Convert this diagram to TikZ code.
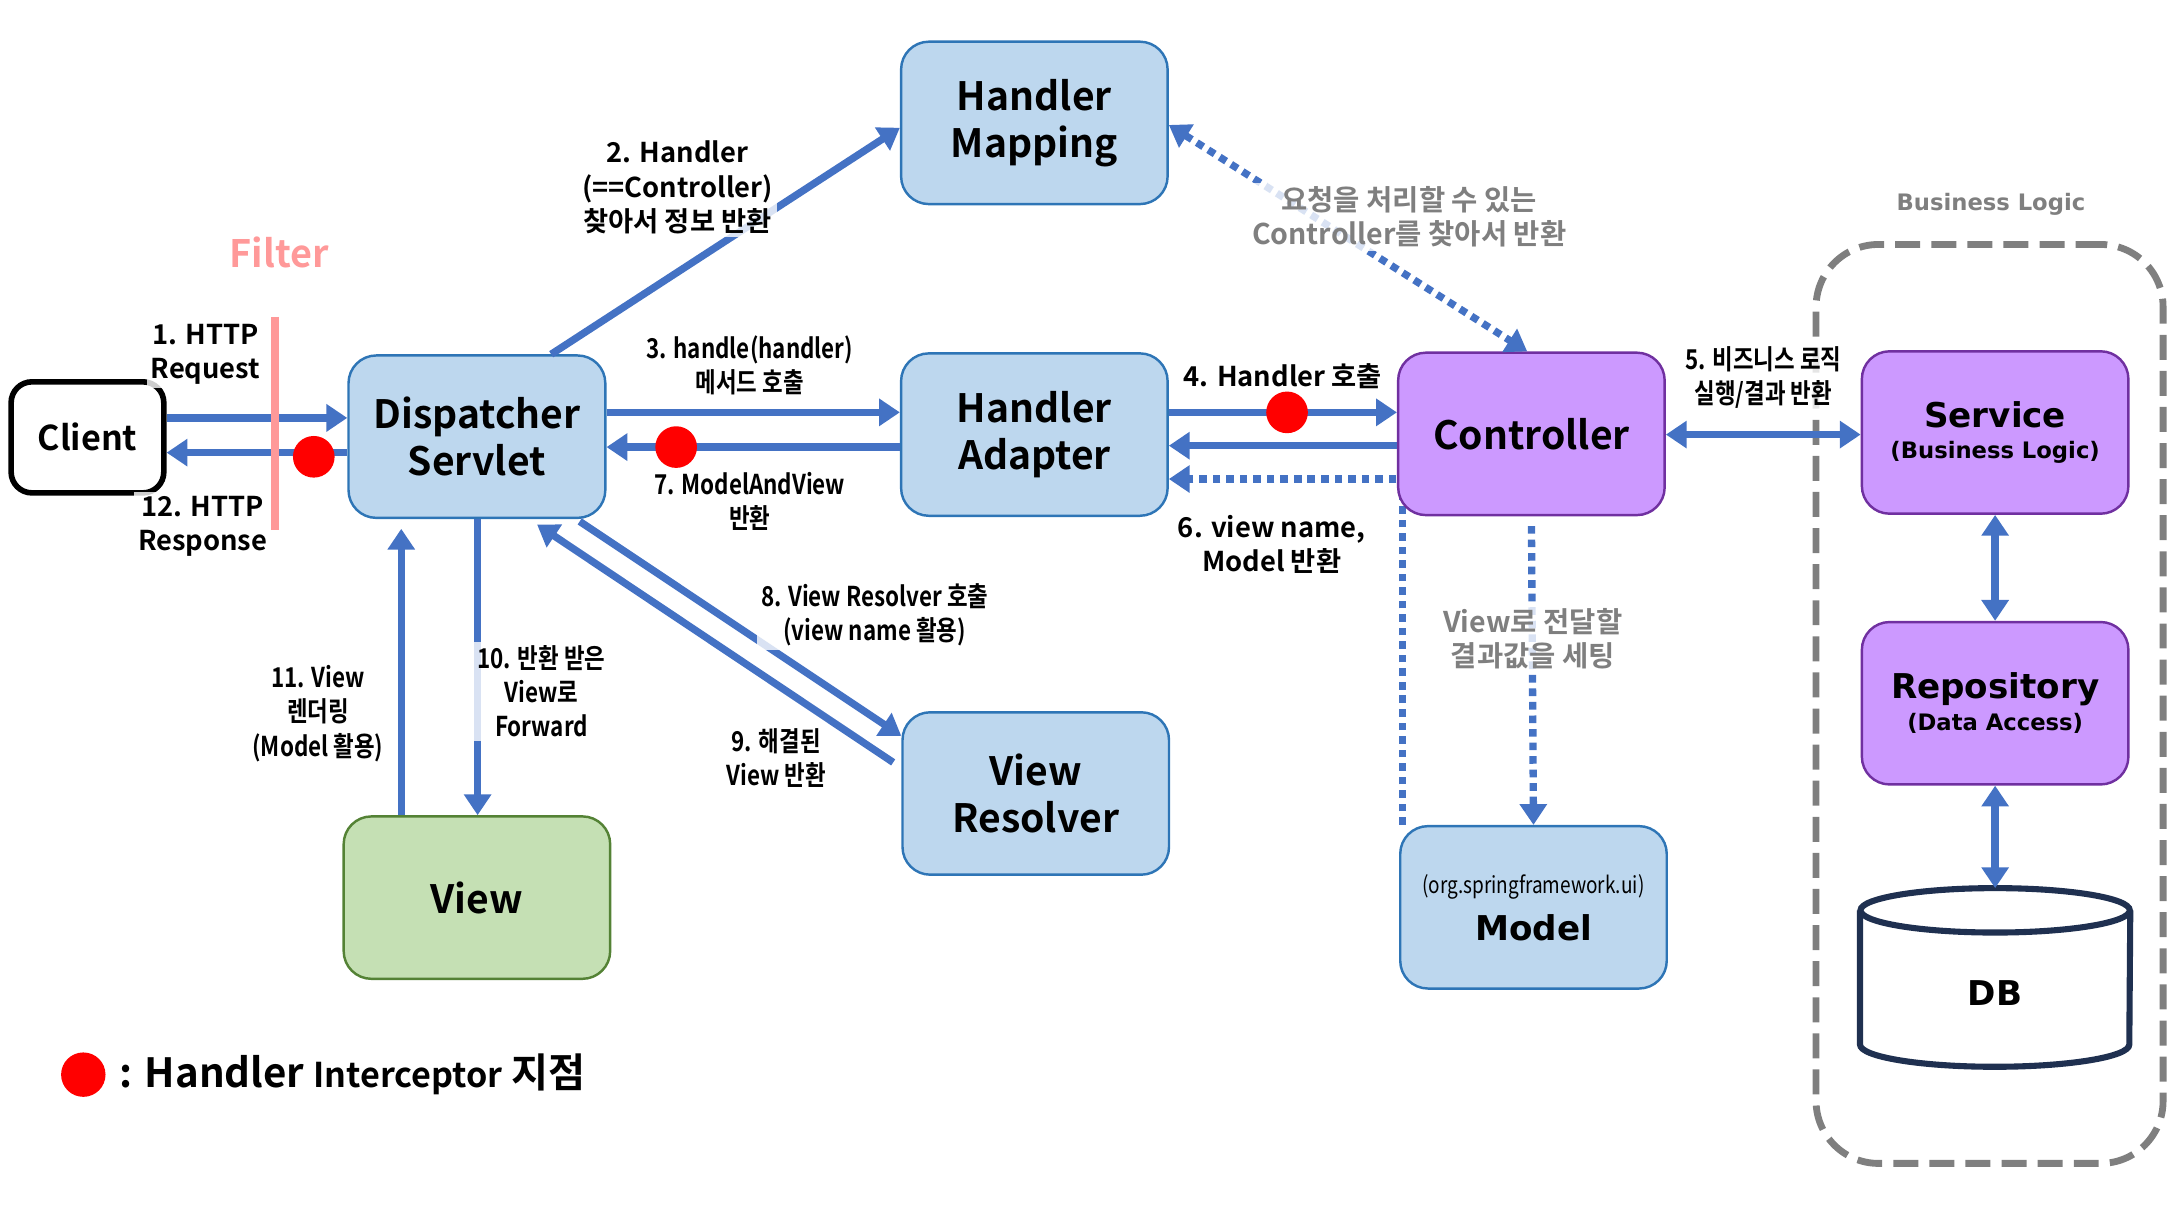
\documentclass[tikz,border=0pt]{standalone}
\usepackage{fontspec}
\setmainfont{Noto Sans CJK KR}[BoldFont=* Bold]
\newfontfamily\condfont{Noto Sans CJK KR}[BoldFont=* Bold, FakeStretch=0.82]
\newfontfamily\widefont{DejaVu Sans}
\usetikzlibrary{arrows.meta}
\usetikzlibrary{backgrounds}
\definecolor{arrowblue}{HTML}{4472C4}
\definecolor{boxfill}{HTML}{BDD7EE}
\definecolor{boxline}{HTML}{2E75B6}
\definecolor{purplefill}{HTML}{CC99FF}
\definecolor{purpleline}{HTML}{7030A0}
\definecolor{greenfill}{HTML}{C5E0B4}
\definecolor{greenline}{HTML}{548235}
\definecolor{filterpink}{HTML}{FF9999}
\definecolor{notegray}{HTML}{7F7F7F}
\definecolor{dbline}{HTML}{1F3050}
\newcommand\titlefont{\bfseries\fontsize{16}{19.3}\selectfont}
\newcommand\labelfont{\bfseries\fontsize{11.2}{14}\selectfont}
\newcommand\condlabel{\condfont\bfseries\fontsize{11.2}{14}\selectfont}
\newcommand\notelabel{\bfseries\fontsize{11.7}{14}\selectfont}
\newcommand\widetitle{\widefont\bfseries\fontsize{14}{16}\selectfont}
\newcommand\widesub{\widefont\bfseries\fontsize{9.3}{11}\selectfont}

\begin{document}
\begin{tikzpicture}[x=0.02cm, y=-0.02cm,
  box/.style={draw=boxline, fill=boxfill, line width=1pt, rounded corners=0.4cm, minimum width=3.84cm, minimum height=2.34cm, align=center, font=\titlefont},
  purplebox/.style={box, draw=purpleline, fill=purplefill},
  arr/.style={draw=arrowblue, line width=3pt, -{Triangle[width=0.38cm,length=0.3cm]}},
  bothtips/.style={{Triangle[width=0.38cm,length=0.3cm]}-{Triangle[width=0.38cm,length=0.3cm]}},
  dotarr/.style={arr, dash pattern=on 0.11cm off 0.085cm},
  lbl/.style={align=center, font=\labelfont, fill=white, fill opacity=0.8, text opacity=1, inner sep=1.5pt},
  clbl/.style={lbl, font=\condlabel},
  note/.style={lbl, font=\notelabel, text=notegray},
  hookdot/.style={circle, fill=red, minimum size=0.6cm, inner sep=0pt}
]
\useasboundingbox (0,0) rectangle (1568,870);

\node[draw, line width=2.3pt, rounded corners=0.3cm, minimum width=2.2cm, minimum height=1.6cm, font=\bfseries\fontsize{14}{16}\selectfont] (client) at (63,315) {Client};
\node[box, minimum width=3.7cm] (dispatcher) at (343.5,314.5) {Dispatcher\\Servlet};
\node[box] (mapping) at (745,88.5) {Handler\\Mapping};
\node[box] (adapter) at (745,313) {Handler\\Adapter};
\node[box] (resolver) at (746,571.5) {View\\Resolver};
\node[box, draw=greenline, fill=greenfill] (view) at (343.5,646.5) {View};
\node[purplebox] (controller) at (1103,312.5) {Controller};
\node[box] (model) at (1104.5,653.5) {{\condfont\mdseries\fontsize{9.5}{12}\selectfont (org.springframework.ui)}\\{\widetitle Model}};
\node[purplebox, font=\widetitle] (service) at (1437,311.5) {Service\\[-3pt]{\widesub (Business Logic)}};
\node[purplebox, font=\widetitle] (repository) at (1437,506.5) {Repository\\[-3pt]{\widesub (Data Access)}};
\node[minimum width=3.88cm, minimum height=2.24cm, font=\widetitle] (db) at (1437,712) {DB};
\draw[dbline, line width=2.5pt, fill=white] (db.north west) -- ([yshift=0.32cm]db.south west) arc[start angle=180, end angle=360, x radius=1.94cm, y radius=0.32cm] -- (db.north east);
\draw[dbline, line width=2.5pt, fill=white] (db.north) ellipse[x radius=1.94cm, y radius=0.32cm];
\node[font=\widetitle] at ([yshift=-0.06cm]db.center) {DB};

\begin{scope}[on background layer]
\node[draw=notegray, line width=2.8pt, dash pattern=on 0.36cm off 0.16cm, rounded corners=0.9cm, minimum width=5cm, minimum height=13.24cm] (bizbox) at (1433,507) {};
\draw[dotarr] (model.north -| 1010,0) -- (1010,345) -- (adapter.east |- 0,345);
\end{scope}
\node[font=\widefont\bfseries\fontsize{9.3}{11}\selectfont, text=notegray] (biztitle) at (1434,147) {Business Logic};

\draw[arr] (client.east |- 0,301) -- (dispatcher.west |- 0,301);
\draw[arr] (dispatcher.west |- 0,326) -- (client.east |- 0,326);
\node[lbl] (req) at (148,255) {1. HTTP\\Request};
\node[lbl] (resp) at (146,379) {12. HTTP\\Response};
\draw[filterpink, line width=3pt] (198,228) -- (198,382);
\node[font=\bfseries\fontsize{15.5}{18}\selectfont, text=filterpink] (filter) at (201,182) {Filter};
\node[hookdot] (hookA) at (226,329) {};

\draw[arr] (dispatcher.north -| 397,0) -- (mapping.west |- 0,92);
\node[lbl] (step2) at (488,135) {2. Handler\\(==Controller)\\찾아서 정보 반환};
\draw[dotarr, bothtips] (mapping.east |- 0,90) -- (controller.north -| 1100,0);
\node[note] (findnote) at (1015,156) {요청을 처리할 수 있는\\Controller를 찾아서 반환};

\draw[arr] (dispatcher.east |- 0,297) -- (adapter.west |- 0,297);
\draw[arr] (adapter.west |- 0,322) -- (dispatcher.east |- 0,322);
\node[clbl] (step3) at (540,263) {3. handle(handler)\\메서드 호출};
\node[clbl] (step7) at (540,361) {7. ModelAndView\\반환};
\node[hookdot] (hookB) at (487,322) {};

\draw[arr] (adapter.east |- 0,297) -- (controller.west |- 0,297);
\draw[arr] (controller.west |- 0,321) -- (adapter.east |- 0,321);
\node[lbl] (step4) at (924,271) {4. Handler 호출};
\node[lbl] (step6) at (916,392) {6. view name,\\Model 반환};
\node[hookdot] (hookC) at (927,297) {};

\draw[arr, bothtips] (controller.east |- 0,313) -- (service.west |- 0,313);
\node[clbl] (step5) at (1270,272) {5. 비즈니스 로직\\실행/결과 반환};
\draw[arr, bothtips] (service.south) -- (repository.north);
\draw[arr, bothtips] (repository.south) -- ([yshift=0.32cm]db.north);

\draw[dotarr, shorten <=0.14cm] (controller.south) -- (model.north);
\node[note] (setnote) at (1104,460) {View로 전달할\\결과값을 세팅};

\draw[arr, shorten <=0.06cm] (dispatcher.south -| 415,0) -- (resolver.west |- 0,530);
\draw[arr, shorten <=0.14cm, shorten >=0.14cm] (resolver.west |- 0,553) -- (dispatcher.south -| 381,0);
\node[clbl] (step8) at (630,443) {8. View Resolver 호출\\(view name 활용)};
\node[clbl] (step9) at (559,546) {9. 해결된\\View 반환};

\draw[arr] (dispatcher.south -| 344,0) -- (view.north -| 344,0);
\draw[arr, shorten >=0.14cm] (view.north -| 289,0) -- (dispatcher.south -| 289,0);
\node[clbl] (step10) at (390,498) {10. 반환 받은\\View로\\Forward};
\node[clbl] (step11) at (229,514) {11. View\\렌더링\\(Model 활용)};

\node[hookdot, minimum size=0.64cm] (legenddot) at (60,774) {};
\node[anchor=west, font=\bfseries\fontsize{16.5}{20}\selectfont] (legend) at (80,774) {: Handler {\fontsize{14}{18}\selectfont Interceptor} 지점};
\end{tikzpicture}
\end{document}
